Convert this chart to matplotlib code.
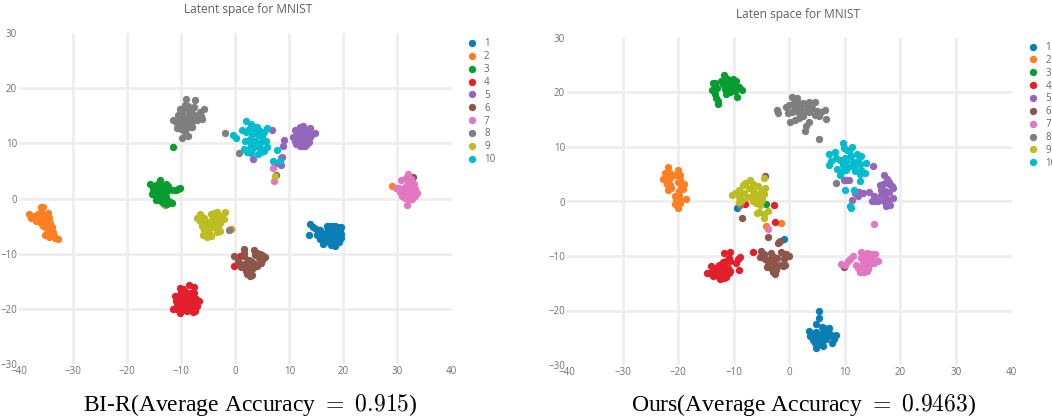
import matplotlib
matplotlib.use("Agg")
import matplotlib.pyplot as plt

W, H = 1052, 419

series_labels = ["1", "2", "3", "4", "5", "6", "7", "8", "9", "10"]
series_colors = ["#0b7fb5", "#ff7f22", "#099c30", "#e2202c", "#9467bd",
                 "#8c564b", "#e377c2", "#7f7f7f", "#bcbd22", "#05bccf"]
axis_ticks_x = [-40, -30, -20, -10, 0, 10, 20, 30, 40]
axis_ticks_y = [-30, -20, -10, 0, 10, 20, 30]

# BI-R panel
bir_1 = [(13.8, -4.6), (14.3, -5.1), (13.6, -6.6), (15.0, -5.6), (15.6, -5.7), (15.2, -6.6), (15.6, -7.4),
         (16.0, -7.6), (16.3, -8.2), (16.2, -6.2), (16.8, -6.5), (17.0, -5.0), (17.5, -4.9), (18.0, -5.0),
         (18.5, -4.9), (19.0, -5.1), (19.5, -5.2), (17.2, -5.6), (17.8, -5.8), (18.3, -5.5), (18.8, -5.7),
         (19.4, -5.8), (19.6, -6.4), (17.0, -7.0), (17.6, -7.0), (18.2, -6.6), (18.8, -6.5), (19.2, -7.0),
         (19.6, -7.2), (17.4, -7.8), (18.0, -7.8), (18.6, -7.6), (19.2, -7.8), (17.8, -8.5), (18.4, -8.6),
         (16.6, -7.2)]
bir_2 = [(-38.1, -2.9), (-37.7, -3.6), (-37.0, -3.2), (-36.8, -4.1), (-36.0, -1.6), (-35.6, -1.5), (-35.9, -2.4),
         (-36.2, -3.6), (-35.6, -3.2), (-35.0, -3.0), (-34.6, -2.7), (-36.0, -4.4), (-35.4, -4.2), (-34.8, -3.8),
         (-34.4, -3.6), (-35.5, -5.0), (-34.8, -4.7), (-34.3, -4.5), (-34.9, -5.6), (-34.3, -5.4), (-33.9, -5.2),
         (-35.2, -6.7), (-34.7, -6.4), (-34.2, -6.2), (-33.7, -6.0), (-34.4, -6.9), (-33.6, -6.8), (-32.8, -7.3),
         (-33.3, -7.1), (-36.4, -2.8), (-13.0, -1.1), (-0.7, -5.5), (29.0, 2.2)]
bir_3 = [(-15.8, 2.7), (-15.3, 2.1), (-14.7, 2.4), (-14.0, 3.3), (-14.3, 2.6), (-13.6, 2.2), (-12.9, 2.6),
         (-12.5, 2.2), (-15.2, 1.4), (-14.6, 1.5), (-13.9, 1.4), (-13.2, 1.5), (-12.6, 1.3), (-15.4, 0.8),
         (-14.8, 0.6), (-14.0, 0.4), (-13.3, 0.7), (-12.8, 0.2), (-14.6, -0.2), (-13.8, -0.4), (-13.2, -0.3),
         (-12.5, -0.4), (-12.0, -0.6), (-11.7, -0.9), (-12.6, -1.0), (-13.4, -0.9), (-11.5, 1.5), (-11.0, 1.6),
         (-10.5, 1.8), (-10.3, 1.9), (-11.5, 9.3)]
bir_4 = [(-8.6, -15.7), (-7.6, -16.1), (-9.6, -16.4), (-10.3, -16.2), (-10.0, -17.0), (-9.1, -16.9), (-8.2, -17.1),
         (-7.7, -17.2), (-11.2, -17.6), (-10.4, -17.7), (-9.5, -17.6), (-8.8, -17.9), (-8.0, -18.0), (-7.3, -18.2),
         (-6.7, -18.5), (-10.9, -18.6), (-10.1, -18.5), (-9.4, -18.5), (-8.6, -18.7), (-7.7, -18.9), (-10.7, -19.4),
         (-10.0, -19.4), (-9.3, -19.3), (-8.5, -19.5), (-7.6, -19.6), (-7.1, -19.5), (-11.5, -20.0), (-10.8, -20.1),
         (-10.3, -20.8), (-9.6, -20.3), (-9.0, -20.4), (-8.4, -20.3), (-7.8, -20.5), (-7.4, -20.4), (0.8, -10.5),
         (-0.3, -12.3)]
bir_5 = [(10.6, 11.2), (11.0, 10.5), (11.1, 12.5), (11.5, 11.6), (11.7, 12.6), (11.2, 9.9), (11.9, 9.5),
         (12.5, 9.6), (11.9, 10.6), (12.5, 10.8), (12.5, 13.1), (12.0, 13.0), (12.9, 12.4), (13.1, 11.6),
         (12.4, 11.7), (13.1, 10.6), (13.3, 9.9), (13.7, 10.3), (13.6, 12.3), (13.9, 12.8), (14.1, 11.5),
         (14.7, 11.9), (13.9, 11.2), (12.9, 9.6), (6.8, 12.5), (9.1, 10.6), (8.8, 9.6), (8.7, 7.6), (8.4, 7.3),
         (8.5, 6.1), (3.2, 7.1), (7.6, 6.5)]
bir_6 = [(-0.2, -10.5), (1.6, -9.1), (1.7, -9.8), (1.6, -10.5), (3.4, -9.4), (4.0, -9.9), (4.5, -10.0),
         (5.0, -10.3), (5.5, -10.6), (4.9, -11.1), (4.4, -10.7), (3.6, -10.3), (4.7, -11.7), (3.1, -11.5),
         (3.6, -11.9), (2.5, -11.1), (0.6, -11.3), (1.1, -11.8), (1.5, -12.2), (1.9, -11.7), (4.0, -12.2),
         (3.3, -12.6), (2.0, -12.6), (2.6, -12.4), (1.9, -13.2), (2.6, -13.0), (3.0, -13.0), (2.2, -13.7),
         (2.8, -14.1), (3.1, -13.8), (1.0, -12.5), (3.2, -12.0), (32.8, 3.9), (7.45, 4.3)]
bir_7 = [(32.0, 4.4), (30.7, 3.3), (31.6, 3.8), (32.6, 3.6), (32.0, 2.9), (33.0, 2.6), (31.6, 2.3), (32.4, 2.1),
         (33.2, 1.7), (30.2, 1.9), (29.8, 1.9), (30.8, 1.8), (31.4, 1.6), (32.2, 1.3), (33.0, 1.1), (33.6, 1.0),
         (30.4, 1.2), (31.0, 1.0), (31.6, 0.7), (32.4, 0.6), (33.2, 0.4), (30.8, 0.4), (31.4, 0.1), (32.1, -0.1),
         (32.7, 0.0), (31.8, -1.1), (7.0, 5.5), (7.2, 3.2)]
bir_8 = [(-9.2, 18.0), (-7.5, 17.9), (-9.3, 17.0), (-8.8, 16.7), (-10.3, 16.2), (-9.6, 16.2), (-7.6, 16.5),
         (-5.7, 16.2), (-8.6, 15.8), (-7.9, 15.3), (-6.6, 15.7), (-10.6, 15.2), (-9.7, 15.2), (-9.0, 14.8),
         (-8.3, 14.8), (-7.3, 15.0), (-6.3, 14.9), (-6.2, 14.4), (-11.5, 14.2), (-10.3, 14.6), (-9.5, 14.3),
         (-8.6, 14.3), (-7.8, 14.1), (-7.0, 14.2), (-11.0, 13.8), (-10.6, 13.5), (-10.0, 13.7), (-9.2, 13.6),
         (-8.4, 13.4), (-10.7, 12.8), (-10.0, 12.6), (-9.4, 12.7), (-8.6, 12.9), (-8.0, 13.0), (-9.3, 12.0),
         (-8.8, 11.3), (-9.9, 11.0), (-1.9, 11.9), (0.65, 8.2), (-1.1, -5.8)]
bir_9 = [(-6.6, -2.9), (-7.0, -3.6), (-6.2, -3.3), (-5.7, -3.6), (-4.5, -2.9), (-3.9, -2.6), (-3.4, -2.5),
         (-1.9, -2.5), (-2.6, -3.2), (-3.5, -3.3), (-4.2, -3.5), (-2.0, -3.7), (-6.6, -4.1), (-5.8, -4.5),
         (-5.0, -4.3), (-4.3, -4.4), (-3.5, -4.2), (-2.9, -4.4), (-6.2, -5.0), (-5.4, -5.3), (-4.7, -5.2),
         (-3.9, -5.1), (-3.2, -5.2), (-5.8, -5.8), (-4.9, -6.0), (-3.4, -6.0), (-2.9, -5.9), (-5.9, -6.6),
         (-5.3, -6.9), (-4.5, -6.8), (7.4, 4.1)]
bir_10 = [(-0.4, 11.6), (0.2, 10.9), (1.9, 14.0), (1.2, 12.5), (2.0, 12.0), (2.9, 13.5), (3.4, 13.0), (2.6, 12.6),
          (4.1, 12.9), (5.8, 12.8), (5.3, 12.0), (3.6, 12.2), (4.6, 12.3), (3.1, 11.7), (4.2, 11.5), (5.0, 11.3),
          (1.8, 10.5), (2.8, 10.7), (3.6, 10.5), (4.7, 10.2), (5.6, 10.5), (2.9, 9.9), (3.8, 9.7), (1.6, 9.0),
          (2.6, 9.0), (3.3, 9.1), (4.6, 9.1), (5.8, 9.3), (5.4, 8.6), (4.8, 8.5), (3.0, 8.3), (2.2, 8.4),
          (4.2, 8.0), (7.8, 8.8), (7.0, 6.8), (8.2, 6.8)]

# Ours panel
ours_1 = [(5.3, -20.1), (5.4, -21.3), (4.8, -22.4), (3.5, -23.8), (4.0, -24.2), (4.3, -24.9), (3.8, -24.6),
          (4.3, -25.5), (4.9, -23.9), (5.0, -24.9), (5.4, -24.3), (5.9, -23.1), (6.3, -23.3), (7.1, -23.3),
          (6.1, -23.9), (6.7, -24.3), (7.4, -24.4), (8.4, -24.5), (8.0, -25.3), (7.7, -26.0), (5.4, -25.5),
          (6.0, -25.2), (6.6, -25.2), (4.6, -26.0), (5.2, -26.2), (5.9, -26.0), (4.9, -26.8), (6.0, -26.6),
          (5.6, -25.0), (6.8, -24.8), (-9.4, -1.2), (-1.0, -6.8)]
ours_2 = [(-21.8, 6.4), (-22.3, 5.3), (-21.5, 5.2), (-22.8, 4.2), (-22.2, 4.4), (-21.4, 4.3), (-20.1, 5.7),
          (-19.7, 4.9), (-20.6, 4.9), (-19.6, 4.0), (-18.9, 3.3), (-19.5, 3.1), (-20.0, 3.5), (-22.0, 3.3),
          (-21.5, 3.0), (-21.9, 2.1), (-21.3, 2.4), (-19.8, 2.0), (-19.2, 2.3), (-19.8, 1.1), (-20.5, 1.1),
          (-19.9, 0.4), (-18.6, 0.4), (-20.4, 0.2), (-19.7, -0.3), (-20.5, -0.5), (-20.0, -1.2), (-4.2, -4.5),
          (-1.4, -3.9)]
ours_3 = [(-13.8, 21.8), (-13.3, 21.7), (-12.3, 22.2), (-11.8, 23.2), (-11.4, 22.7), (-10.9, 22.3), (-10.2, 22.4),
          (-9.6, 22.2), (-13.9, 20.4), (-13.4, 21.0), (-13.0, 20.9), (-11.9, 21.5), (-11.2, 21.7), (-10.5, 21.6),
          (-10.0, 21.0), (-9.0, 21.0), (-8.5, 20.5), (-11.5, 20.6), (-10.8, 20.9), (-9.8, 20.2), (-11.4, 19.8),
          (-10.7, 20.0), (-9.4, 19.2), (-13.4, 19.7), (-13.1, 19.0), (-12.9, 18.4), (-12.8, 17.8), (-4.2, -0.4)]
ours_4 = [(-14.8, -13.1), (-14.1, -11.8), (-13.4, -12.2), (-14.2, -13.2), (-13.7, -13.6), (-13.0, -13.2),
          (-13.4, -12.9), (-12.6, -11.7), (-12.0, -11.8), (-11.7, -9.5), (-10.6, -9.2), (-10.8, -10.3),
          (-11.3, -10.9), (-11.9, -11.1), (-12.4, -12.4), (-11.7, -12.6), (-11.1, -12.2), (-10.6, -11.0),
          (-10.7, -12.7), (-12.8, -13.7), (-12.2, -13.3), (-11.5, -13.5), (-12.5, -14.2), (-11.7, -14.0),
          (-11.3, -13.9), (-10.9, -13.2), (-8.8, -10.2), (-9.2, -10.5), (-9.5, -11.3), (-9.0, -12.6), (-6.5, -9.3),
          (-8.0, -0.4), (-2.7, -0.6), (-2.5, -3.7)]
ours_5 = [(15.0, 6.5), (17.0, 4.8), (17.6, 4.1), (18.0, 3.6), (16.3, 3.0), (16.8, 3.3), (17.9, 3.3), (18.5, 2.9),
          (18.7, 2.4), (16.5, 2.2), (17.3, 2.0), (18.0, 1.8), (16.6, 1.2), (17.3, 0.9), (18.7, 0.7), (17.8, 0.3),
          (17.0, 0.0), (17.5, -0.9), (18.1, -0.7), (16.0, 0.1), (15.4, 0.0), (14.9, 0.0), (15.2, 1.0), (14.4, 1.8),
          (13.3, 1.6), (12.5, 1.7), (11.9, 1.6), (12.3, 1.1), (11.3, 0.3), (9.8, 3.9), (10.7, 4.0), (10.2, 3.9)]
ours_6 = [(-5.0, -9.0), (-5.2, -10.2), (-4.5, -9.7), (-4.3, -10.5), (-3.9, -11.0), (-3.2, -9.5), (-2.7, -10.1),
          (-3.5, -10.5), (-2.2, -10.4), (-1.5, -9.2), (-1.0, -9.6), (-0.5, -9.7), (0.0, -10.0), (-1.0, -10.5),
          (-3.9, -11.7), (-3.2, -11.4), (-2.7, -11.3), (-4.0, -12.0), (-3.3, -12.2), (-2.8, -12.0), (-1.7, -11.7),
          (-1.2, -11.8), (-0.7, -11.7), (-3.0, -12.9), (-2.5, -13.3), (-2.4, -12.6), (-4.4, 4.6), (-8.5, -3.0),
          (-3.8, -6.6), (-1.9, -7.5), (-1.7, -7.2), (-2.1, -7.7), (9.9, -12.0)]
ours_7 = [(12.9, -9.2), (13.2, -9.8), (14.0, -9.4), (14.8, -9.6), (15.4, -9.6), (11.5, -10.0), (13.0, -10.4),
          (13.6, -10.2), (14.4, -10.1), (11.0, -10.6), (10.6, -10.9), (13.2, -11.1), (14.0, -11.0), (15.0, -10.7),
          (16.0, -11.0), (15.2, -11.2), (9.3, -11.5), (10.0, -11.6), (12.0, -11.6), (13.3, -11.8), (14.4, -11.7),
          (12.4, -12.2), (13.4, -12.4), (14.2, -12.3), (12.7, -13.0), (13.4, -12.9), (14.0, -12.7), (15.3, -4.1),
          (-3.9, -5.1)]
ours_8 = [(-2.2, 16.8), (-2.1, 16.3), (0.5, 19.2), (1.4, 19.0), (1.0, 18.6), (0.0, 17.7), (-0.5, 17.3), (0.7, 17.8),
          (1.5, 18.0), (2.4, 18.1), (3.6, 18.3), (4.7, 18.2), (3.2, 17.6), (4.1, 17.2), (2.0, 17.2), (1.1, 17.0),
          (-0.3, 16.3), (0.5, 16.5), (1.6, 16.4), (2.7, 16.5), (3.5, 16.5), (5.0, 16.6), (6.5, 16.8), (5.7, 16.4),
          (0.1, 14.6), (1.0, 15.0), (1.7, 15.4), (2.5, 15.7), (4.6, 15.8), (5.4, 15.6), (6.6, 15.1), (3.5, 14.5),
          (3.1, 13.9), (2.9, 12.9), (5.4, 11.4), (8.4, 3.4), (-8.9, -0.7)]
ours_9 = [(-10.3, 1.2), (-9.7, 1.6), (-9.1, 2.2), (-8.4, 3.0), (-7.9, 3.4), (-7.1, 3.9), (-6.6, 3.2), (-5.6, 2.9),
          (-4.5, 4.3), (-4.4, 2.4), (-5.0, 1.8), (-9.0, 0.9), (-8.1, 1.6), (-7.3, 2.4), (-6.6, 1.9), (-5.9, 1.4),
          (-4.6, 1.3), (-8.5, 0.3), (-7.5, 0.8), (-6.9, 0.9), (-6.0, 0.5), (-5.1, 0.7), (-4.9, 0.2), (-9.0, -0.1),
          (-6.6, 0.1), (-5.9, -0.2), (-5.3, -0.7), (-5.8, -2.1), (-5.5, -1.9), (-4.6, -3.0), (-4.5, -2.3), (-3.8, -1.7)]
ours_10 = [(9.6, 10.8), (9.8, 9.9), (10.4, 9.5), (11.3, 10.0), (10.8, 9.2), (7.1, 8.7), (8.2, 9.1), (7.6, 7.5),
           (8.5, 7.9), (7.1, 6.7), (9.1, 7.6), (10.0, 8.0), (11.2, 8.3), (12.2, 8.8), (13.0, 8.4), (12.3, 7.5),
           (10.3, 7.4), (11.4, 7.3), (13.9, 7.0), (9.7, 6.7), (10.6, 6.4), (11.6, 6.4), (12.7, 6.8), (8.6, 5.9),
           (9.3, 5.4), (10.2, 5.8), (11.8, 5.6), (13.0, 5.8), (9.2, 4.8), (13.6, 5.2), (12.8, 5.0), (12.7, 3.7),
           (10.0, 2.2), (11.6, 2.1), (11.2, -1.2), (11.0, -0.9)]

bir_series = [bir_1, bir_2, bir_3, bir_4, bir_5, bir_6, bir_7, bir_8, bir_9, bir_10]
ours_series = [ours_1, ours_2, ours_3, ours_4, ours_5, ours_6, ours_7, ours_8, ours_9, ours_10]

plt.rcParams['font.family'] = ['Open Sans', 'DejaVu Sans']
plt.rcParams['mathtext.fontset'] = 'cm'

fig = plt.figure(figsize=(W / 100, H / 100), dpi=100, facecolor='white')


def draw_panel(box, series, title, title_xy, legend_xy):
    left, right, top, bottom = box
    ax = fig.add_axes([left / W, 1 - bottom / H, (right - left) / W, (bottom - top) / H])
    ax.set_xlim(-40, 40)
    ax.set_ylim(-30, 30)
    for v in axis_ticks_x[1:-1]:
        ax.axvline(v, color='#eeeeee', lw=2.0, zorder=1)
    for v in axis_ticks_y[1:-1]:
        ax.axhline(v, color='#eeeeee', lw=2.0, zorder=1)
    for i, pts in enumerate(series):
        xs = [p[0] for p in pts]
        ys = [p[1] for p in pts]
        ax.scatter(xs, ys, s=28, color=series_colors[i], linewidths=0, zorder=3,
                   label=series_labels[i], clip_on=False)
    ax.set_xticks(axis_ticks_x)
    ax.set_yticks(axis_ticks_y)
    ax.tick_params(length=0, labelsize=7, labelcolor='#707070', pad=1.5)
    for s in ax.spines.values():
        s.set_visible(False)
    fig.text(title_xy[0] / W, 1 - title_xy[1] / H, title, fontsize=8.6, color='#606060',
             ha='center', va='center')
    ax.legend(loc='upper left', bbox_to_anchor=(legend_xy[0] / W, 1 - legend_xy[1] / H),
              bbox_transform=fig.transFigure, frameon=False, fontsize=7, labelcolor='#666666',
              borderpad=0, borderaxespad=0, labelspacing=0.19, handletextpad=0.75, handlelength=1.0,
              scatteryoffsets=[0.5])


draw_panel((19, 451.5, 33, 364), bir_series, "Latent space for MNIST", (248, 9.5), (467, 38.5))
draw_panel((567, 1011.5, 38, 365), ours_series, "Laten space for MNIST", (798, 14.5), (1028.5, 42))

caption_font = ['Liberation Serif', 'DejaVu Serif']
fig.text(250 / W, 1 - 405 / H, r"BI-R(Average Accuracy$\ =\ 0.915$)", fontsize=17,
         family=caption_font, color='black', ha='center', va='center', math_fontfamily='cm')
fig.text(804 / W, 1 - 405 / H, r"Ours(Average Accuracy$\ =\ 0.9463$)", fontsize=17,
         family=caption_font, color='black', ha='center', va='center', math_fontfamily='cm')

fig.savefig("out.png", dpi=100)
